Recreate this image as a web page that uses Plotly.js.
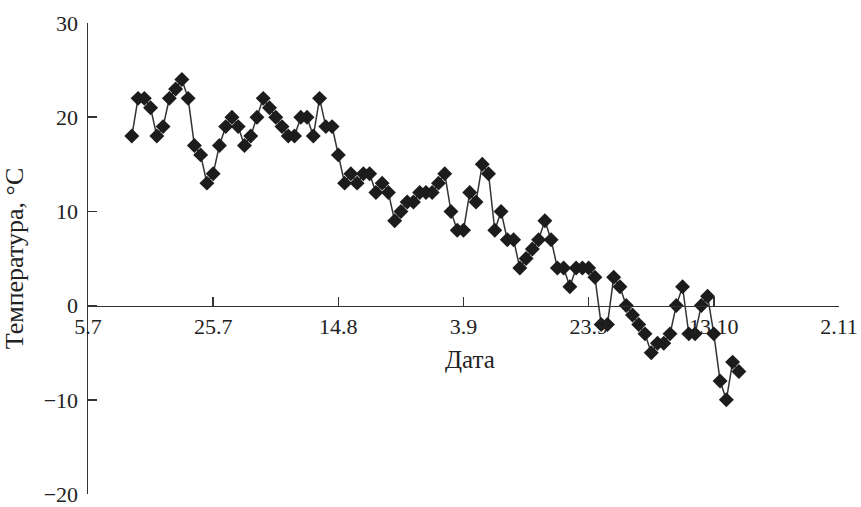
<!DOCTYPE html>
<html>
<head>
<meta charset="utf-8">
<script src="https://cdn.plot.ly/plotly-3.0.1.min.js"></script>
<style>html,body{margin:0;padding:0;background:#fff;}</style>
</head>
<body>
<div id="chart" style="width:861px;height:507px;"></div>
<script>
// Day numbers counted from 5 July; one reading per day starting 12 July
const firstDay = 7;
const temperatures = [
  18,22,22,21,18,19,22,23,24,22,
  17,16,13,14,17,19,20,19,17,18,
  20,22,21,20,19,18,18,20,20,18,
  22,19,19,16,13,14,13,14,14,12,
  13,12,9,10,11,11,12,12,12,13,
  14,10,8,8,12,11,15,14,8,10,
  7,7,4,5,6,7,9,7,4,4,
  2,4,4,4,3,-2,-2,3,2,0,
  -1,-2,-3,-5,-4,-4,-3,0,2,-3,
  -3,0,1,-3,-8,-10,-6,-7
];
const tickDays = [0,20,40,60,80,100,120];
const tickLabels = ['5.7','25.7','14.8','3.9','23.9','13.10','2.11'];
const yTicks = [-20,-10,0,10,20,30];
const xTitle = 'Дата';
const yTitle = 'Температура, °C';

const fam = '"Liberation Serif", "Times New Roman", serif';
const font = {family:fam, size:22, color:'#222'};

Plotly.newPlot('chart', [{
  type:'scatter', mode:'lines+markers',
  y: temperatures, x0: firstDay, dx: 1,
  line:{color:'#333', width:1.5},
  marker:{symbol:'diamond', size:11.5, color:'#1c1c1c'},
  hoverinfo:'skip'
}], {
  width:861, height:507,
  margin:{l:88, r:22, t:23, b:13},
  paper_bgcolor:'#fff', plot_bgcolor:'#fff',
  showlegend:false,
  font: font,
  xaxis:{
    range:[0,120], tickvals:tickDays, ticktext:tickLabels,
    anchor:'free', position:0.4,
    showgrid:false, zeroline:false,
    showline:true, linecolor:'#333', linewidth:1.5,
    ticks:'inside', ticklen:9, tickwidth:1.5, tickcolor:'#333',
    tickfont:font, ticklabeloverflow:'allow'
  },
  yaxis:{
    range:[-20,30], tickvals:yTicks,
    showgrid:false, zeroline:false,
    showline:true, linecolor:'#333', linewidth:1.5,
    ticks:'inside', ticklen:9, tickwidth:1.5, tickcolor:'#333',
    tickfont:font, ticklabelstandoff:4, ticklabeloverflow:'allow',
    title:{text:yTitle, font:{family:fam, size:26, color:'#222'}, standoff:14}
  },
  annotations:[{
    text:xTitle, xref:'paper', yref:'paper', x:0.509, y:0.286,
    xanchor:'center', yanchor:'middle', showarrow:false,
    font:{family:fam, size:25, color:'#222'}
  }]
}, {staticPlot:true});
</script>
</body>
</html>
